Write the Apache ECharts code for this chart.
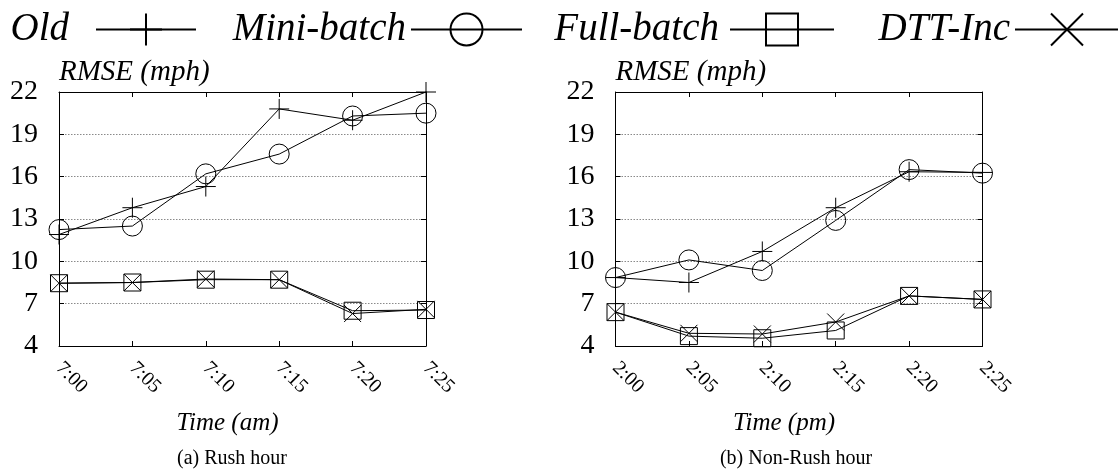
<!DOCTYPE html>
<html>
<head>
<meta charset="utf-8">
<script src="https://cdn.jsdelivr.net/npm/echarts@6/dist/echarts.min.js"></script>
<style>
  html, body { margin: 0; padding: 0; background: #fff; }
  #chart { width: 1118px; height: 472px; }
</style>
</head>
<body>
<div id="chart"></div>
<script>
// Time ticks for the two panels
const amTimes = ['7:00', '7:05', '7:10', '7:15', '7:20', '7:25'];
const pmTimes = ['2:00', '2:05', '2:10', '2:15', '2:20', '2:25'];
// RMSE axis ticks (mph)
const rmseTicks = [4, 7, 10, 13, 16, 19, 22];

// (a) Rush hour
const rushOld = [11.9, 13.8, 15.3, 20.8, 20.0, 22.0];
const rushMini = [12.25, 12.5, 16.2, 17.6, 20.3, 20.5];
const rushFull = [8.45, 8.5, 8.7, 8.7, 6.5, 6.55];
const rushDtt = [8.45, 8.5, 8.75, 8.7, 6.3, 6.6];

// (b) Non-Rush hour
const calmOld = [8.85, 8.5, 10.7, 13.8, 16.35, 16.3];
const calmMini = [8.85, 10.1, 9.35, 12.9, 16.5, 16.25];
const calmFull = [6.4, 4.7, 4.55, 5.1, 7.55, 7.3];
const calmDtt = [6.4, 4.9, 4.85, 5.7, 7.55, 7.3];

const SERIF = '"Liberation Serif", "Times New Roman", serif';
const PLUS = 'path://M10,0L10,20M0,10L20,10';
const CROSS = 'path://M0,0L20,20M20,0L0,20';

const yMin = rmseTicks[0];
const yMax = rmseTicks[rmseTicks.length - 1];
const yStep = rmseTicks[1] - rmseTicks[0];

const PLOT_W = 367, PLOT_H = 254, PLOT_TOP = 92;
const grids = [
  { left: 59, top: PLOT_TOP, width: PLOT_W, height: PLOT_H },
  { left: 615.5, top: PLOT_TOP, width: PLOT_W, height: PLOT_H }
];

function bottomAxis(gridIndex, cats, name) {
  return {
    type: 'category', gridIndex, data: cats, boundaryGap: false, position: 'bottom',
    axisLine: { show: true, lineStyle: { color: '#000', width: 1 } },
    axisTick: { show: true, inside: true, length: 5, interval: 0, lineStyle: { color: '#000' } },
    axisLabel: { show: true, interval: 0, rotate: -45, margin: 19, color: '#000',
      fontFamily: SERIF, fontSize: 20 },
    splitLine: { show: false },
    name, nameLocation: 'middle', nameGap: 65,
    nameTextStyle: { fontFamily: SERIF, fontStyle: 'italic', fontSize: 25, color: '#000',
      padding: [0, 30, 0, 0] }
  };
}
function topAxis(gridIndex, cats) {
  return {
    type: 'category', gridIndex, data: cats, boundaryGap: false, position: 'top',
    axisLine: { show: true, lineStyle: { color: '#000', width: 1 } },
    axisTick: { show: true, inside: true, length: 5, interval: 0, lineStyle: { color: '#000' } },
    axisLabel: { show: false }, splitLine: { show: false }
  };
}
function leftAxis(gridIndex) {
  return {
    type: 'value', gridIndex, min: yMin, max: yMax, interval: yStep, position: 'left',
    axisLine: { show: true, lineStyle: { color: '#000', width: 1 } },
    axisTick: { show: true, inside: true, length: 5, lineStyle: { color: '#000' } },
    axisLabel: { show: true, margin: 21, color: '#000', fontFamily: SERIF, fontSize: 28 },
    splitLine: { show: true, showMinLine: false, showMaxLine: false,
      lineStyle: { color: '#8a8a8a', width: 1, type: [1.5, 1.5] } },
    name: 'RMSE (mph)', nameLocation: 'end', nameGap: 5,
    nameTextStyle: { fontFamily: SERIF, fontStyle: 'italic', fontSize: 29, color: '#000', align: 'left' }
  };
}
function rightAxis(gridIndex) {
  return {
    type: 'value', gridIndex, min: yMin, max: yMax, interval: yStep, position: 'right',
    axisLine: { show: true, lineStyle: { color: '#000', width: 1 } },
    axisTick: { show: true, inside: true, length: 5, lineStyle: { color: '#000' } },
    axisLabel: { show: false }, splitLine: { show: false }
  };
}

function lineSeries(name, data, panel, symbol, size) {
  return {
    type: 'line', name, data,
    xAxisIndex: panel * 2, yAxisIndex: panel * 2,
    symbol, symbolSize: size, showSymbol: true, showAllSymbol: true,
    lineStyle: { color: '#000', width: 1 },
    itemStyle: { color: 'transparent', borderColor: '#000', borderWidth: 1 },
    emphasis: { disabled: true }, animation: false, clip: false
  };
}

function legendItem(name, right, itemWidth, gap) {
  return {
    data: [name], right, top: 10, align: 'right', orient: 'horizontal',
    itemWidth, itemHeight: 40, padding: 0, selectedMode: false,
    lineStyle: { width: 2 }, itemStyle: { borderWidth: 2 },
    textStyle: { fontFamily: SERIF, fontStyle: 'italic', fontSize: 39, color: '#000',
      padding: [0, gap, 0, 0] }
  };
}

const option = {
  backgroundColor: '#fff',
  animation: false,
  grid: grids,
  xAxis: [
    bottomAxis(0, amTimes, 'Time (am)'), topAxis(0, amTimes),
    bottomAxis(1, pmTimes, 'Time (pm)'), topAxis(1, pmTimes)
  ],
  yAxis: [leftAxis(0), rightAxis(0), leftAxis(1), rightAxis(1)],
  legend: [
    legendItem('Old', 1118 - 197, 100, 22),
    legendItem('Mini-batch', 1118 - 523, 111, 0),
    legendItem('Full-batch', 1118 - 835, 104, 6),
    legendItem('DTT-Inc', -2, 104, 0)
  ],
  series: [
    lineSeries('Old', rushOld, 0, PLUS, 20),
    lineSeries('Mini-batch', rushMini, 0, 'circle', 20),
    lineSeries('Full-batch', rushFull, 0, 'rect', 17),
    lineSeries('DTT-Inc', rushDtt, 0, CROSS, 17),
    lineSeries('Old', calmOld, 1, PLUS, 20),
    lineSeries('Mini-batch', calmMini, 1, 'circle', 20),
    lineSeries('Full-batch', calmFull, 1, 'rect', 17),
    lineSeries('DTT-Inc', calmDtt, 1, CROSS, 17)
  ],
  graphic: [
    { type: 'text', x: 232, y: 459, silent: true,
      style: { text: '(a) Rush hour', fontFamily: SERIF, fontSize: 20, fill: '#000',
        align: 'center', verticalAlign: 'middle' } },
    { type: 'text', x: 796, y: 459, silent: true,
      style: { text: '(b) Non-Rush hour', fontFamily: SERIF, fontSize: 20, fill: '#000',
        align: 'center', verticalAlign: 'middle' } }
  ]
};

const chart = echarts.init(document.getElementById('chart'), null, { renderer: 'canvas' });
chart.setOption(option);
</script>
</body>
</html>
